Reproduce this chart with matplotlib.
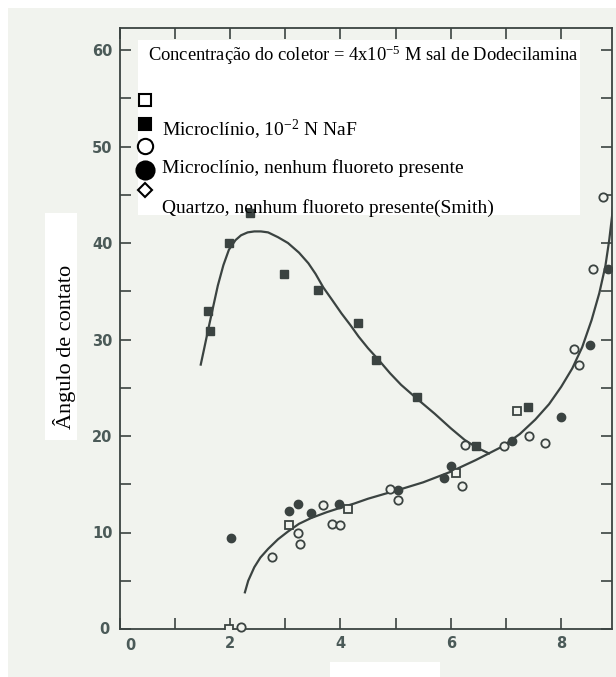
import matplotlib
matplotlib.use("Agg")
import matplotlib.pyplot as plt
from matplotlib.patches import Rectangle
from matplotlib.lines import Line2D

# ---- data ------------------------------------------------------------------
# solid squares: Microclinio, 1e-2 N NaF
naf_x = [1.60, 1.64, 1.98, 2.36, 2.98, 3.60, 4.31, 4.65, 5.38, 6.45, 7.40]
naf_y = [33.0, 30.9, 40.0, 43.1, 36.8, 35.1, 31.7, 27.9, 24.0, 19.0, 23.0]
# open squares (unlabelled legend entry)
osq_x = [1.98, 3.07, 4.13, 6.10, 7.20]
osq_y = [0.0, 10.8, 12.4, 16.2, 22.6]
# solid circles: Microclinio, no fluoride
fc_x = [2.02, 3.07, 3.24, 3.47, 3.98, 5.04, 5.87, 6.00, 7.10, 8.00, 8.53, 8.84]
fc_y = [9.4, 12.2, 13.0, 12.0, 13.0, 14.4, 15.6, 16.9, 19.5, 22.0, 29.4, 37.3]
# open circles
oc_x = [2.20, 2.76, 3.24, 3.26, 3.69, 3.85, 4.00, 4.89, 5.05, 6.20, 6.26,
        6.96, 7.42, 7.70, 8.23, 8.33, 8.58, 8.75]
oc_y = [0.2, 7.5, 10.0, 8.8, 12.9, 10.9, 10.8, 14.5, 13.4, 14.8, 19.1,
        19.0, 20.0, 19.3, 29.0, 27.4, 37.3, 44.8]

# hand-drawn trend curves
hump_x = [1.47, 1.53, 1.60, 1.68, 1.78, 1.88, 1.98, 2.10, 2.20, 2.32, 2.44,
          2.56, 2.69, 2.87, 3.05, 3.25, 3.42, 3.55, 3.69, 3.85, 4.02, 4.18,
          4.33, 4.50, 4.69, 4.90, 5.10, 5.40, 5.71, 6.00, 6.25, 6.47, 6.69]
hump_y = [27.4, 29.0, 30.9, 33.0, 35.6, 37.7, 39.3, 40.3, 40.8, 41.1, 41.2,
          41.2, 41.1, 40.6, 40.0, 39.0, 37.9, 36.8, 35.4, 34.1, 32.7, 31.5,
          30.3, 29.1, 27.9, 26.5, 25.3, 23.8, 22.3, 20.8, 19.6, 18.8, 18.2]
rise_x = [2.27, 2.33, 2.44, 2.55, 2.69, 2.87, 3.05, 3.25, 3.47, 3.75, 4.02,
          4.25, 4.50, 4.80, 5.10, 5.50, 6.00, 6.45, 6.93, 7.25, 7.53, 7.78,
          8.00, 8.20, 8.38, 8.55, 8.69, 8.80, 8.87, 8.93, 8.98]
rise_y = [3.8, 5.0, 6.4, 7.4, 8.3, 9.3, 10.1, 10.9, 11.5, 12.1, 12.6,
          13.0, 13.5, 14.0, 14.5, 15.2, 16.3, 17.5, 18.9, 20.2, 21.7, 23.3,
          25.1, 27.0, 29.2, 32.0, 34.8, 37.6, 40.3, 43.2, 46.5]

x_ticks = [0, 1, 2, 3, 4, 5, 6, 7, 8]
x_labels = ["", "", "2", "", "4", "", "6", "", "8"]
y_ticks = [0, 5, 10, 15, 20, 25, 30, 35, 40, 45, 50, 55, 60]
y_labels = ["", "", "10", "", "20", "", "30", "", "40", "", "50", "", "60"]

title = "Concentração do coletor = 4x10$\\mathregular{^{-5}}$ M sal de Dodecilamina"
leg_naf = "Microclínio, 10$\\mathregular{^{-2}}$ N NaF"
leg_nof = "Microclínio, nenhum fluoreto presente"
leg_qz = "Quartzo, nenhum fluoreto presente(Smith)"
ylab = "Ângulo de contato"

# ---- styling -----------------------------------------------------------------
W, H = 616, 677
PAPER = "#f1f3ee"
INK = "#3b4341"
TICK = "#4b5a58"
SERIF = ["Liberation Serif", "DejaVu Serif"]


def fp(px, py):
    """pixel position in the scan -> figure fraction"""
    return px / W, 1 - py / H


fig = plt.figure(figsize=(W / 100, H / 100), dpi=100, facecolor="white")
fig.add_artist(Rectangle(fp(8, H), (W - 8) / W, (H - 8) / H,
                         transform=fig.transFigure, fc=PAPER, ec="none", zorder=-3))
# white paste-over boxes from the scan
fig.add_artist(Rectangle(fp(45, 440), 32 / W, 227 / H, transform=fig.transFigure,
                         fc="white", ec="none", zorder=-2))
fig.add_artist(Rectangle(fp(330, H), 110 / W, 15 / H, transform=fig.transFigure,
                         fc="white", ec="none", zorder=-2))

x0, x1, y0, y1 = 119.6, 612, 629, 28
ax = fig.add_axes([x0 / W, 1 - y0 / H, (x1 - x0) / W, (y0 - y1) / H])
ax.set_facecolor(PAPER)
ax.set_xlim(0, (x1 - x0) / 55.2)
ax.set_ylim(0, (y0 - y1) / 9.65)

ax.add_patch(Rectangle(fp(138, 215), (580 - 138) / W, (215 - 40) / H,
                       transform=fig.transFigure, fc="white", ec="none", zorder=1))

ax.plot(hump_x, hump_y, color=INK, lw=1.6, zorder=2)
ax.plot(rise_x, rise_y, color=INK, lw=1.6, zorder=2)

ms = 6
ax.plot(naf_x, naf_y, "s", ms=ms, color=INK, mec=INK, zorder=3)
ax.plot(osq_x, osq_y, "s", ms=ms, mfc=PAPER, mec=INK, mew=1.3, zorder=3)
ax.plot(fc_x, fc_y, "o", ms=ms, color=INK, mec=INK, zorder=3)
ax.plot(oc_x, oc_y, "o", ms=ms, mfc=PAPER, mec=INK, mew=1.3, zorder=3, clip_on=False)

ax.set_xticks(x_ticks)
ax.set_xticklabels(x_labels)
ax.set_yticks(y_ticks)
ax.set_yticklabels(y_labels)
ax.tick_params(direction="in", length=8, width=1.2, color=INK, labelcolor=TICK,
               labelsize=10.5, top=True, right=True, pad=5)
for lab in ax.get_xticklabels() + ax.get_yticklabels():
    lab.set_fontweight("bold")
for s in ax.spines.values():
    s.set_color(INK)
    s.set_linewidth(1.3)
# the two zeros sit off the corner in the scan
fig.text(*fp(104, 630), "0", color=TICK, fontsize=10.5, fontweight="bold",
         ha="center", va="center")
fig.text(*fp(130, 645), "0", color=TICK, fontsize=10.5, fontweight="bold",
         ha="center", va="center")

# legend, drawn by hand as in the pasted-on original
fig.text(*fp(148, 55), title, family=SERIF, fontsize=13.3, va="center", zorder=5)
for (px, py, mk, filled, size) in [(145, 100, "s", False, 8), (145, 124, "s", True, 9),
                                   (145, 146, "o", False, 11), (145, 170, "o", True, 13),
                                   (145, 190, "D", False, 7.5)]:
    fig.add_artist(Line2D([px / W], [1 - py / H], marker=mk, ms=size, ls="none",
                          mfc="black" if filled else "white", mec="black", mew=1.5,
                          transform=fig.transFigure, zorder=5))
fig.text(*fp(162, 130), leg_naf, family=SERIF, fontsize=14, va="center", zorder=5)
fig.text(*fp(162, 168), leg_nof, family=SERIF, fontsize=14, va="center", zorder=5)
fig.text(*fp(162, 208), leg_qz, family=SERIF, fontsize=14, va="center", zorder=5)

fig.text(*fp(64, 347), ylab, family=SERIF, fontsize=16, rotation=90,
         ha="center", va="center", zorder=5)

fig.savefig("out.png", dpi=100, facecolor=fig.get_facecolor())
